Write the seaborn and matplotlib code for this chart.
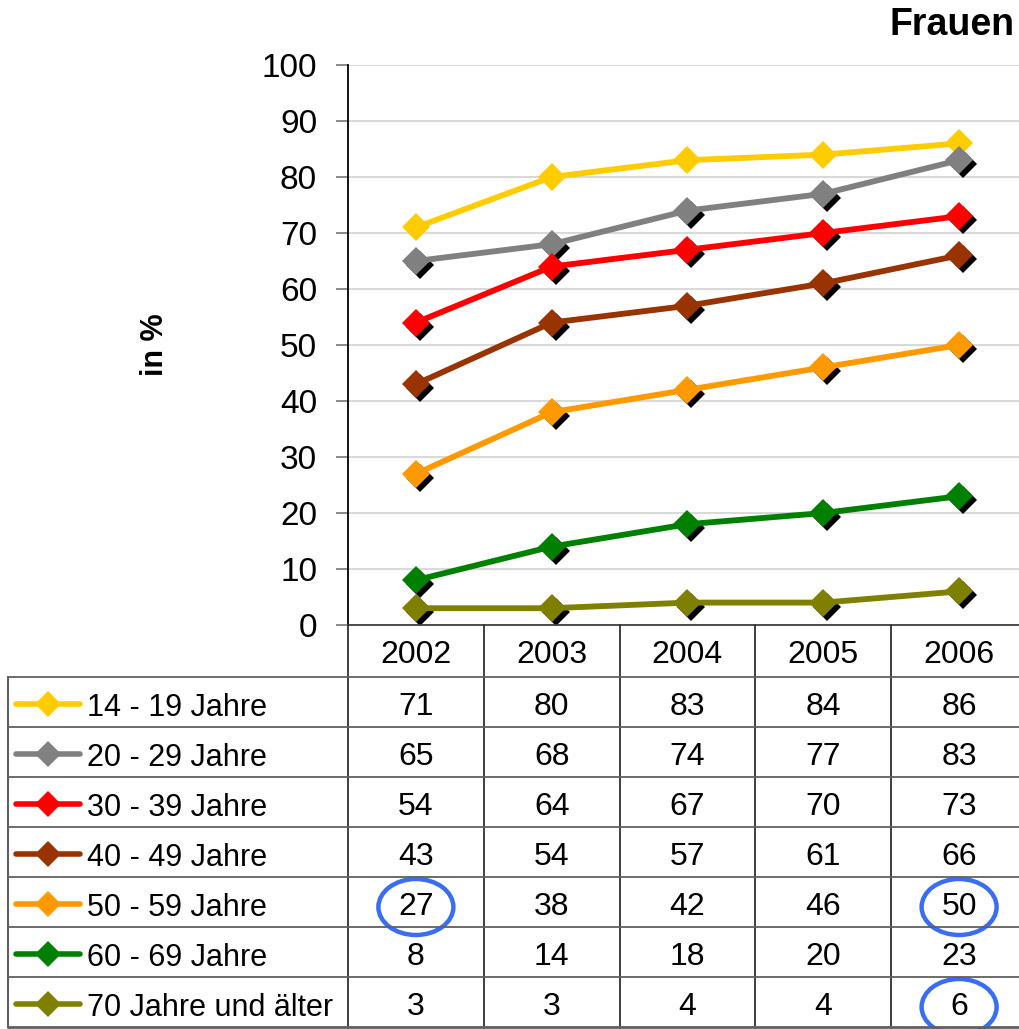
import pandas as pd
import matplotlib
matplotlib.use('Agg')
import matplotlib.pyplot as plt
import matplotlib.transforms as mtransforms
from matplotlib.patches import Ellipse
import seaborn as sns

# Daten
years = ['2002', '2003', '2004', '2005', '2006']
groups = ['14 - 19 Jahre', '20 - 29 Jahre', '30 - 39 Jahre', '40 - 49 Jahre',
          '50 - 59 Jahre', '60 - 69 Jahre', '70 Jahre und älter']
v14 = [71, 80, 83, 84, 86]
v20 = [65, 68, 74, 77, 83]
v30 = [54, 64, 67, 70, 73]
v40 = [43, 54, 57, 61, 66]
v50 = [27, 38, 42, 46, 50]
v60 = [8, 14, 18, 20, 23]
v70 = [3, 3, 4, 4, 6]
series = [v14, v20, v30, v40, v50, v60, v70]
colors = ['#FFCC00', '#808080', '#FF0000', '#993300', '#FF9900', '#008000', '#808000']
circled = [('50 - 59 Jahre', '2002'), ('50 - 59 Jahre', '2006'), ('70 Jahre und älter', '2006')]

rows = []
for g, vals in zip(groups, series):
    for y, v in zip(years, vals):
        rows.append({'group': g, 'year': y, 'pos': years.index(y), 'value': v})
df = pd.DataFrame(rows)

sns.set_style('white')
plt.rcParams['font.family'] = ['Liberation Sans', 'DejaVu Sans']
plt.rcParams['text.color'] = 'black'
plt.rcParams['ytick.labelcolor'] = 'black'

W, H = 1020, 1029
fig = plt.figure(figsize=(W / 100, H / 100), dpi=100)

# Diagramm
ax = fig.add_axes([348 / W, (H - 625) / H, 679 / W, 560 / H])
shadow = ax.transData + mtransforms.ScaledTranslation(4 / 100, -4 / 100, fig.dpi_scale_trans)
for g, c in zip(groups, colors):
    if c == '#FFCC00':
        continue
    sub = df[df['group'] == g]
    ax.plot(sub['pos'], sub['value'], ls='none', marker='D', ms=14, mew=0,
            color='black', transform=shadow, zorder=2.5, clip_on=False)
sns.lineplot(data=df, x='pos', y='value', hue='group', hue_order=groups,
             palette=dict(zip(groups, colors)), marker='D', markersize=14,
             markeredgewidth=0, linewidth=4.2, legend=False, ax=ax, zorder=3)
for line in ax.lines:
    line.set_clip_on(False)

ax.set_xlim(-0.5, 4.5)
ax.set_ylim(0, 100)
ax.set_yticks(range(0, 101, 10))
ax.set_xticks([])
ax.set_xlabel('')
ax.set_ylabel('')
ax.yaxis.grid(True, color='#d9d9d9', lw=1.5)
ax.set_axisbelow(True)
for s in ['top', 'right']:
    ax.spines[s].set_visible(False)
ax.spines['left'].set_color('black')
ax.spines['left'].set_linewidth(1.3)
ax.spines['bottom'].set_color('#404040')
ax.spines['bottom'].set_linewidth(1.3)
ax.tick_params(axis='y', direction='out', length=8.6, width=1.3, color='#808080',
               labelsize=24, pad=13.7, left=True, labelcolor='black')

fig.text(1015 / W, 1 - 25 / H, 'Frauen', ha='right', va='center',
         fontsize=27, fontweight='bold', color='black')
fig.text(155 / W, 1 - 345 / H, 'in %', ha='center', va='center', rotation=90,
         fontsize=22, fontweight='bold', color='black')

# Datentabelle
ax_t = fig.add_axes([8 / W, 2 / H, 1019 / W, 402 / H])
scale = 679 / 5.0
x0 = -0.5 - 340 / scale
ax_t.set_xlim(x0, 4.5)
ax_t.set_ylim(402, 0)
ax_t.axis('off')


def px(xp):
    return x0 + (xp - 8) / scale


line_kw = dict(color='#303030', lw=1.3, clip_on=False)
for k in range(len(years)):
    ax_t.plot([k - 0.5, k - 0.5], [0, 402], **line_kw)
    ax_t.text(k, 30, years[k], ha='center', va='center', fontsize=23, color='black')
for i in range(len(groups) + 1):
    yy = 52 + 50 * i
    ax_t.plot([x0, 4.5], [yy, yy], color='#606060',
              lw=2 if i == len(groups) else 1.3, clip_on=False)
ax_t.plot([x0, x0], [52, 402], color='#606060', lw=1.5, clip_on=False)

for i, (g, vals, c) in enumerate(zip(groups, series, colors)):
    yc = 77 + 50 * i
    ax_t.plot([px(16), px(80)], [yc + 2, yc + 2], color=c, lw=4,
              solid_capstyle='round', clip_on=False)
    ax_t.plot([px(48)], [yc + 2], marker='D', ms=13, mew=0, color=c, clip_on=False)
    ax_t.text(px(87), yc + 6, g, ha='left', va='center', fontsize=22, color='black')
    for k, v in enumerate(vals):
        ax_t.text(k, yc + 5, str(v), ha='center', va='center', fontsize=23, color='black')

for g, y in circled:
    i = groups.index(g)
    k = years.index(y)
    ax_t.add_patch(Ellipse((k, 77 + 50 * i + 5), width=75 / scale, height=56,
                           fill=False, edgecolor='#3A6EF2', lw=3.2, clip_on=False))

fig.savefig('out.png', dpi=100)
